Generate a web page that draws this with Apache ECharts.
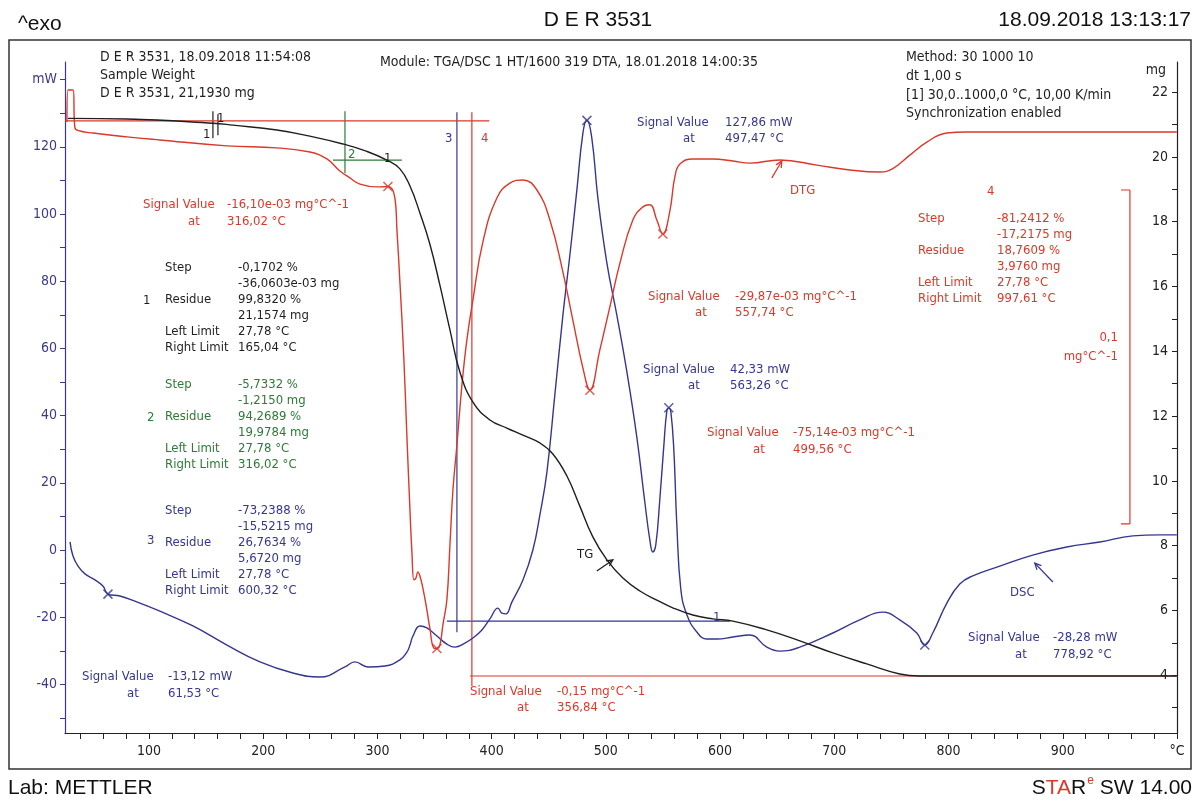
<!DOCTYPE html>
<html>
<head>
<meta charset="utf-8">
<script src="https://cdn.jsdelivr.net/npm/echarts@6/dist/echarts.min.js"></script>
<style>
html,body{margin:0;padding:0;background:#ffffff;}
#chart{width:1198px;height:802px;}
</style>
</head>
<body>
<div id="chart"></div>
<script>
// ---------------- DATA ----------------
// DSC signal (mW) vs temperature (°C)
const dscT = [30.9,33.5,37.9,44.0,52.7,59.7,64.1,74.6,92.1,109.6,138.5,168.3,197.2,226.0,249.7,271.6,280.3,291.7,306.6,319.7,325.8,328.5,331.1,337.2,343.3,352.1,360.8,367.8,376.6,383.6,391.5,398.5,405.5,409.0,412.5,417.7,427.4,436.1,442.2,448.4,455.4,462.4,468.5,474.6,479.9,483.4,487.7,493.0,500.9,509.6,518.4,527.1,534.1,538.5,541.1,543.7,547.2,550.8,553.4,555.1,556.9,559.5,562.1,565.6,570.9,579.6,588.4,597.2,611.2,626.0,640.9,652.3,669.8,698.7,722.3,742.4,757.3,772.2,779.2,786.2,798.5,809.8,821.2,844.9,873.7,903.5,932.4,961.3,984.9,999.8];
const dscMW = [2.4,-1.8,-4.8,-7.1,-8.9,-10.7,-13.1,-13.7,-15.8,-18.2,-22.6,-28.3,-33.3,-36.6,-37.8,-34.8,-33.3,-34.8,-34.5,-32.7,-30.4,-28.3,-25.6,-22.6,-23.2,-25.6,-28.0,-28.9,-27.7,-26.2,-23.8,-20.5,-17.3,-18.8,-19.0,-15.5,-8.9,0,10.4,23.2,46.4,69.9,87.8,107.1,124.1,127.9,122.6,104.8,85.4,69.9,53.0,33.6,14.3,3.0,-0.6,1.5,14.9,31.3,41.4,42.3,41.1,29.8,7.7,-11.6,-19.3,-24.4,-26.5,-26.5,-25.9,-25.3,-28.9,-30.1,-28.9,-24.7,-20.8,-18.5,-20.8,-24.7,-28.3,-24.7,-15.8,-10.1,-7.7,-4.8,-1.5,0.9,2.4,4.2,4.5,4.5];

// DTG signal (mg/°C) vs temperature
const dtgT = [28.2,29.1,33.5,35.2,39.6,51.0,80.7,109.6,168.3,212.0,240.9,255.8,267.2,275.9,284.7,299.6,309.2,315.3,317.1,319.7,323.2,325.8,328.5,330.2,332.0,333.7,335.4,337.2,339.8,343.3,345.9,349.5,352.1,354.7,357.3,360.8,363.5,366.1,369.6,374.0,378.3,383.6,392.3,404.6,416.0,427.4,439.6,451.0,462.4,471.1,479.9,486.0,494.7,503.5,512.3,523.6,532.4,538.5,544.6,549.9,556.0,560.4,564.8,576.1,593.6,611.2,626.0,652.3,684.7,713.6,739.8,751.2,766.1,781.0,798.5,816.0,999.8];
const dtgV = [0.0026,0.0119,0.0119,0.0009,0,-0.0006,-0.0017,-0.0026,-0.0043,-0.0049,-0.0061,-0.0081,-0.0116,-0.0136,-0.0154,-0.0162,-0.0161,-0.0194,-0.0287,-0.0438,-0.0664,-0.0884,-0.1099,-0.1220,-0.1301,-0.1296,-0.1278,-0.1290,-0.1325,-0.1388,-0.1441,-0.1499,-0.1500,-0.1490,-0.1432,-0.1359,-0.1200,-0.1041,-0.0910,-0.0736,-0.0606,-0.0490,-0.0322,-0.0194,-0.0151,-0.0142,-0.0171,-0.0258,-0.0409,-0.0548,-0.0687,-0.0751,-0.0635,-0.0510,-0.0383,-0.0258,-0.0220,-0.0214,-0.0258,-0.0299,-0.0232,-0.0133,-0.0096,-0.0081,-0.0081,-0.0087,-0.0093,-0.0084,-0.0099,-0.0113,-0.0119,-0.0109,-0.0070,-0.0032,-0.0006,-0.0003,-0.0003];

// TG mass (mg) vs temperature
const tgT = [29.1,80.7,156.0,173.5,212.0,240.9,269.8,290.8,308.3,319.7,328.5,337.2,345.9,354.7,363.5,372.2,383.6,398.5,413.3,427.4,442.2,453.6,465.9,477.2,488.6,500.9,514.9,529.8,544.6,558.6,576.1,593.6,611.2,640.9,669.8,698.7,728.4,757.3,774.8,999.8];
const tgMG = [21.19,21.17,21.04,20.98,20.83,20.64,20.40,20.17,19.90,19.63,19.10,18.27,17.31,16.04,14.66,13.36,12.43,11.88,11.63,11.41,11.17,10.83,10.15,9.22,8.27,7.56,7.00,6.60,6.32,6.08,5.86,5.74,5.67,5.40,5.06,4.69,4.35,4.04,3.976,3.976];

// evaluated signal values (markers)
const dscMarkT = [64.1,483.4,555.1,779.2];
const dscMarkV = [-13.12,127.86,42.33,-28.28];
const dtgMarkT = [309.2,352.1,486.0,549.9];
const dtgMarkV = [-0.0161,-0.15,-0.07514,-0.02987];

// step evaluation guide lines [T1, v1, T2, v2] (TG axis, mg)
const guideBlack = [[156.0,21.41,156.0,20.58],[160.4,21.32,160.4,20.67]];
const guideGreen = [[271.6,21.41,271.6,19.50],[261.1,19.90,321.4,19.90]];
const guideBlue  = [[369.6,21.38,369.6,5.33],[360.8,5.67,608.5,5.67]];
const guideRed   = [[26.5,21.11,398.0,21.11],[382.7,21.38,382.7,3.67],[381.0,3.976,1000,3.976]];
// DTG scale bar 0,1 mg/°C (DTG axis)
const dtgScaleBar = [[958.8,-0.0171,958.8,-0.1139],[951.0,-0.0171,958.8,-0.0171],[951.0,-0.1139,958.8,-0.1139]];

// axis ticks / labels
const xTickVals = [40,60,80,100,120,140,160,180,200,220,240,260,280,300,320,340,360,380,400,420,440,460,480,500,520,540,560,580,600,620,640,660,680,700,720,740,760,780,800,820,840,860,880,900,920,940,960,980,1000];
const xLabelVals = [100,200,300,400,500,600,700,800,900,1000];
const mwTickVals = [-50,-40,-30,-20,-10,0,10,20,30,40,50,60,70,80,90,100,110,120,130,140];
const mwLabelVals = [-40,-20,0,20,40,60,80,100,120,140];
const mgTickVals = [3,4,5,6,7,8,9,10,11,12,13,14,15,16,17,18,19,20,21,22];
const mgLabelVals = [4,6,8,10,12,14,16,18,20,22];

// ---------------- STYLE ----------------
const C = {red:'#d8392b', blue:'#35368f', green:'#2e7a38', black:'#1f1f1f', navy:'#3a3a86'};
const FONT = '"DejaVu Sans Condensed","DejaVu Sans",sans-serif';
const HFONT = '"Liberation Sans",Arial,sans-serif';

const chart = echarts.init(document.getElementById('chart'), null, {renderer:'canvas'});

function curve(name, xs, ys, yi, color){
  return {name, type:'line', xAxisIndex:0, yAxisIndex:yi,
    data: xs.map((x,i)=>[x, ys[i]]), symbol:'none', showSymbol:false,
    smooth:0.45, clip:true, silent:true,
    lineStyle:{color, width:1.4}, itemStyle:{color}, z:3};
}
function segs(list, yi, color, w){
  return list.map(s=>({type:'line', xAxisIndex:0, yAxisIndex:yi,
    data:[[s[0],s[1]],[s[2],s[3]]], symbol:'none', showSymbol:false, silent:true, clip:true,
    lineStyle:{color, width:w||1.2}, z:2}));
}
function marks(xs, ys, yi, color){
  return {type:'scatter', xAxisIndex:0, yAxisIndex:yi, data: xs.map((x,i)=>[x,ys[i]]),
    symbol:'path://M0,0L10,10M10,0L0,10', symbolSize:9, silent:true,
    itemStyle:{color:'rgba(0,0,0,0)', borderColor:color, borderWidth:1.5}, z:5};
}

const series = [
  curve('DSC', dscT, dscMW, 0, C.blue),
  curve('DTG', dtgT, dtgV, 2, C.red),
  curve('TG', tgT, tgMG, 1, C.black),
  ...segs(guideBlack, 1, C.black),
  ...segs(guideGreen, 1, C.green),
  ...segs(guideBlue, 1, C.blue),
  ...segs(guideRed, 1, C.red),
  ...segs(dtgScaleBar, 2, C.red),
  marks(dscMarkT, dscMarkV, 0, C.blue),
  marks(dtgMarkT, dtgMarkV, 2, C.red)
];

chart.setOption({
  animation:false,
  backgroundColor:'#ffffff',
  grid:{left:65, right:21, top:62, bottom:69, containLabel:false},
  xAxis:{type:'value', min:26.5, max:1000,
    axisLine:{show:true, onZero:false, lineStyle:{color:'#222', width:1.2}},
    axisTick:{show:true, customValues:xTickVals, length:6, lineStyle:{color:'#222'}},
    axisLabel:{customValues:xLabelVals, formatter:v=> v===1000?'°C':String(v), color:'#222', fontSize:14, fontFamily:FONT, margin:11, showMaxLabel:true},
    splitLine:{show:false}},
  yAxis:[
    {type:'value', position:'left', min:-54.46, max:145.24,
      axisLine:{show:true, onZero:false, lineStyle:{color:C.navy, width:1.2}},
      axisTick:{show:true, customValues:mwTickVals, length:5, lineStyle:{color:C.navy}},
      axisLabel:{customValues:mwLabelVals, formatter:v=> v===140?'mW':String(v), color:C.navy, fontSize:14, fontFamily:FONT, margin:8, showMaxLabel:true, showMinLabel:true},
      splitLine:{show:false}},
    {type:'value', position:'right', min:2.217, max:22.93,
      axisLine:{show:true, onZero:false, lineStyle:{color:'#222', width:1.2}},
      axisTick:{show:true, inside:true, customValues:mgTickVals, length:5, lineStyle:{color:'#222'}},
      axisLabel:{inside:true, customValues:mgLabelVals, color:'#222', fontSize:14, fontFamily:FONT, margin:9, showMaxLabel:true, showMinLabel:true},
      splitLine:{show:false}},
    {type:'value', position:'right', show:false, min:-0.1745, max:0.0200, splitLine:{show:false}}
  ],
  series
});

// ---------------- ANNOTATIONS ----------------
const g = [];
function txt(x,y,s,color,size,align,font){
  g.push({type:'text', x, y, z:10, silent:true,
    style:{text:s, fill:color, font:(size||13)+'px '+(font||FONT), textAlign:align||'left', textVerticalAlign:'middle', align:align||'left', verticalAlign:'middle'}});
}
// page frame
g.push({type:'rect', shape:{x:9,y:40,width:1182,height:729}, style:{fill:null, stroke:'#333', lineWidth:1.5}, z:0, silent:true});

// header row & footer
txt(18,24,'^exo','#111',21,'left',HFONT);
txt(598,20,'D E R 3531','#111',21,'center',HFONT);
txt(1191,20,'18.09.2018 13:13:17','#111',21,'right',HFONT);
txt(8,788,'Lab: METTLER','#111',21,'left',HFONT);

// STARe SW 14.00 (right aligned)
(function(){
  const cv = document.createElement('canvas').getContext('2d');
  cv.font = '21px '+HFONT;
  const wTail = cv.measureText(' SW 14.00').width;
  const wR = cv.measureText('R').width;
  const wTA = cv.measureText('TA').width;
  cv.font = '12px '+HFONT;
  const wE = cv.measureText('e').width;
  let xr = 1192;
  txt(xr,788,' SW 14.00','#111',21,'right',HFONT); xr -= wTail;
  txt(xr,781,'e',C.red,12,'right',HFONT); xr -= wE+1;
  txt(xr,788,'R','#111',21,'right',HFONT); xr -= wR;
  txt(xr,788,'TA',C.red,21,'right',HFONT); xr -= wTA;
  txt(xr,788,'S','#111',21,'right',HFONT);
})();

// info blocks
txt(100,57,'D E R 3531, 18.09.2018 11:54:08',C.black,14);
txt(100,75,'Sample Weight',C.black,14);
txt(100,93,'D E R 3531, 21,1930 mg',C.black,14);
txt(380,62,'Module: TGA/DSC 1 HT/1600 319 DTA, 18.01.2018 14:00:35',C.black,14);
txt(906,57,'Method: 30 1000 10',C.black,14);
txt(906,76,'dt 1,00 s',C.black,14);
txt(906,95,'[1] 30,0..1000,0 °C, 10,00 K/min',C.black,14);
txt(906,113,'Synchronization enabled',C.black,14);
txt(1166,70,'mg',C.black,14,'right');

// signal value labels [xLabel, xValue, xAt, y1, y2, value, temp, color]
const sig = [
  [143,227,188,205,222,'-16,10e-03 mg°C^-1','316,02 °C',C.red],
  [82,168,127,677,694,'-13,12 mW','61,53 °C',C.blue],
  [470,557,517,692,708,'-0,15 mg°C^-1','356,84 °C',C.red],
  [637,725,683,123,139,'127,86 mW','497,47 °C',C.blue],
  [648,735,695,297,313,'-29,87e-03 mg°C^-1','557,74 °C',C.red],
  [643,730,688,370,386,'42,33 mW','563,26 °C',C.blue],
  [707,793,753,433,450,'-75,14e-03 mg°C^-1','499,56 °C',C.red],
  [968,1053,1015,638,655,'-28,28 mW','778,92 °C',C.blue]
];
sig.forEach(s=>{ txt(s[0],s[3],'Signal Value',s[7]); txt(s[1],s[3],s[5],s[7]); txt(s[2],s[4],'at',s[7]); txt(s[1],s[4],s[6],s[7]); });

// step result blocks
function block(xl,xv,y0,num,xn,vals,color,numY){
  const labs = ['Step','','Residue','','Left Limit','Right Limit'];
  for(let i=0;i<6;i++){ const y=y0+16*i; if(labs[i]) txt(xl,y,labs[i],color); txt(xv,y,vals[i],color); }
  if(num) txt(xn,numY,num,color);
}
block(165,238,268,'1',143,['-0,1702 %','-36,0603e-03 mg','99,8320 %','21,1574 mg','27,78 °C','165,04 °C'],C.black,301);
block(165,238,385,'2',147,['-5,7332 %','-1,2150 mg','94,2689 %','19,9784 mg','27,78 °C','316,02 °C'],C.green,418);
block(165,238,511,'3',147,['-73,2388 %','-15,5215 mg','26,7634 %','5,6720 mg','27,78 °C','600,32 °C'],C.blue,541);
block(918,997,219,null,0,['-81,2412 %','-17,2175 mg','18,7609 %','3,9760 mg','27,78 °C','997,61 °C'],C.red,0);
txt(987,192,'4',C.red);
txt(1118,338,'0,1',C.red,13,'right');
txt(1118,357,'mg°C^-1',C.red,13,'right');

// step numbers near guide lines
txt(203,135,'1',C.black); txt(217,119,'1',C.black);
txt(348,155,'2',C.green); txt(384,159,'1',C.black);
txt(445,139,'3',C.blue); txt(481,139,'4',C.red);
txt(713,618,'1',C.navy);

// curve names
txt(790,191,'DTG',C.red);
txt(577,555,'TG',C.black);
txt(1010,593,'DSC',C.blue);

// arrows (data coordinates -> pixels)
function arrow(yi, tail, head, color){
  const t = chart.convertToPixel({xAxisIndex:0, yAxisIndex:yi}, tail);
  const h = chart.convertToPixel({xAxisIndex:0, yAxisIndex:yi}, head);
  const dx=h[0]-t[0], dy=h[1]-t[1], L=Math.hypot(dx,dy), ux=dx/L, uy=dy/L, a=0.45, s=7;
  const p1=[h[0]-s*(ux*Math.cos(a)-uy*Math.sin(a)), h[1]-s*(uy*Math.cos(a)+ux*Math.sin(a))];
  const p2=[h[0]-s*(ux*Math.cos(a)+uy*Math.sin(a)), h[1]-s*(uy*Math.cos(a)-ux*Math.sin(a))];
  g.push({type:'line', silent:true, z:10, shape:{x1:t[0],y1:t[1],x2:h[0],y2:h[1]}, style:{stroke:color,lineWidth:1.3}});
  g.push({type:'polyline', silent:true, z:10, shape:{points:[p1,h,p2]}, style:{stroke:color,lineWidth:1.3,fill:null}});
}
arrow(2,[645.3,-0.0136],[654.0,-0.0087],C.red);
arrow(1,[492.1,7.22],[506.1,7.56],C.black);
arrow(0,[891.3,-9.5],[875.5,-3.9],C.blue);

chart.setOption({graphic:g});
</script>
</body>
</html>
